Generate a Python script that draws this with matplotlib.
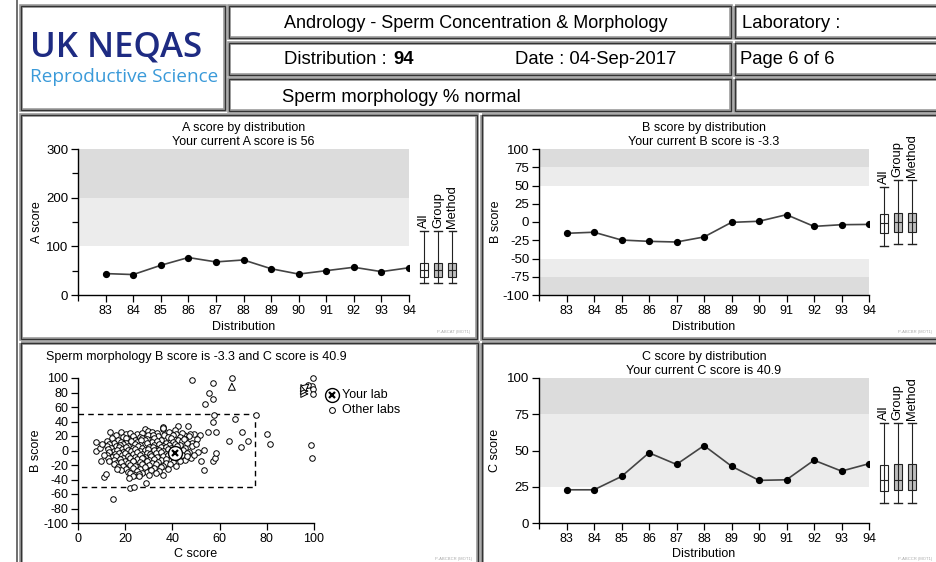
import matplotlib
matplotlib.use("Agg")
import matplotlib.pyplot as plt
from matplotlib.patches import Rectangle

plt.rcParams['font.family'] = ['Liberation Sans', 'DejaVu Sans']
plt.rcParams['axes.unicode_minus'] = False

W, H = 937, 562

# ---- data ----
dist = [83, 84, 85, 86, 87, 88, 89, 90, 91, 92, 93, 94]
a_score = [44, 42, 61, 77, 68, 72, 54, 43, 50, 57, 48, 56]
b_score = [-15.5, -14, -24.7, -26.5, -27.4, -20.5, -0.5, 1, 10, -6, -3.7, -3.3]
c_score = [22.9, 22.9, 32.1, 48.4, 40.4, 53.4, 39.2, 29.4, 29.8, 43.3, 35.8, 40.9]

box_names = ['All', 'Group', 'Method']
# whislo, q1, med, q3, whishi
a_boxes = [[24, 36, 51, 66, 132], [24, 36, 51, 66, 132], [24, 36, 51, 66, 132]]
b_boxes = [[-33, -15, -1.4, 11.4, 48.4], [-30, -13.7, 0.5, 12.8, 57.5], [-30, -13.7, 0.5, 12.8, 57.5]]
c_boxes = [[13.5, 22, 29.6, 40, 69], [13.5, 22.5, 30, 40.8, 69], [13.5, 22.5, 30, 40.8, 69]]

your_c, your_b = 40.9, -3.3

other_c = [
    48.5, 57.3, 55.4, 57.1, 53.9, 57.6, 57.0, 58.4, 55.2, 64.0, 66.6, 69.3, 72.0, 68.9, 75.5, 80.0, 81.3,
    98.6, 99.3, 65.2, 99.7, 99.2, 99.5, 99.7, 97.5, 15.0, 11.0, 11.9, 7.5, 7.5, 13.4, 29.0, 22.2, 23.8,
    51.8, 53.5, 53.5, 57.0, 58.0, 58.5, 50.5, 51.0, 52.0, 48.0, 46.7, 42.3, 36.0, 36.0, 36.0, 49.0, 45.0,
    28.5, 29.5, 36.2, 41.0,
    18.2, 20.3, 22.1, 25.2, 31.4, 33.5, 38.5, 41.5, 44.2, 47.3, 27.3,
    16.3, 19.1, 23.4, 26.2, 29.8, 34.1, 36.4, 38.2, 40.1, 43.3, 47.2, 31.8,
    14.2, 17.1, 21.2, 24.1, 27.3, 29.1, 32.4, 35.2, 39.3, 42.2, 45.3, 20.2,
    12.1, 15.3, 18.2, 20.3, 22.4, 25.1, 28.3, 31.2, 33.4, 37.1, 40.2, 44.2, 48.1, 26.5,
    13.2, 16.1, 19.2, 21.3, 24.2, 26.4, 29.1, 32.2, 34.3, 36.1, 38.4, 41.2, 43.3, 46.2, 17.8,
    12.3, 14.1, 17.2, 18.6, 20.4, 23.1, 25.3, 27.2, 30.1, 33.2, 35.1, 37.4, 39.2, 42.1, 45.4, 31.6,
    12.6, 15.1, 16.6, 19.2, 21.1, 22.6, 24.2, 26.1, 28.2, 31.1, 32.3, 34.2, 36.1, 38.2, 43.1, 44.3, 47.2, 29.6,
    13.1, 15.6, 17.2, 18.6, 20.1, 23.2, 25.1, 27.3, 29.2, 30.6, 33.1, 35.2, 37.1, 39.3, 42.4, 46.1, 49.2,
    12.2, 14.3, 16.1, 19.2, 21.3, 24.1, 26.2, 28.4, 31.1, 33.6, 36.2, 38.1, 40.3, 44.2, 27.4,
    12.6, 15.1, 17.6, 20.1, 22.2, 25.1, 27.2, 30.1, 32.3, 35.2, 37.1, 41.3, 45.2, 23.5,
    13.2, 16.1, 18.2, 21.1, 23.3, 26.2, 29.1, 31.2, 34.1, 37.3, 40.1, 43.2,
    15.1, 19.2, 22.1, 24.3, 27.1, 30.2, 33.1, 36.2, 39.1, 41.5,
    17.1, 20.2, 23.1, 26.3, 28.2, 32.1, 35.2, 38.1, 30.4,
    18.1, 21.2, 25.1, 29.2, 31.1, 34.2, 16.5,
    22.2, 24.1, 27.3, 30.1, 33.2, 26.0,
    23.2, 25.8, 21.4,
    9.5, 10.2, 11.0, 9.8, 48.5, 50.2, 46.0, 44.8,
]
other_b = [
    97.5, 93, 79, 71.5, 64.7, 49, 39, 26, 25, 12.5, 42.8, 26, 12.5, 5, 49, 22.7, 8.5,
    7.5, -10, 100, 100, 89, 85, 78, 91, -67, -37, -32, 12, -0.7, 25, -45.5, -51.5, -50.5,
    21, 0.5, -27, -15, -10, -4, 16, -2, -14, -10, 33.5, 33.5, 32.7, 29, -34, 23, 22,
    29.5, 27, 30.5, 28,
    25.6, 22.8, 24.4, 22.2, 25.1, 23.7, 25.9, 23.1, 24.7, 22.5, 24.2,
    21.6, 18.8, 20.4, 18.2, 21.1, 19.7, 21.9, 19.1, 20.7, 18.5, 20.2, 21.3,
    17.6, 14.8, 16.4, 14.2, 17.1, 15.7, 17.9, 15.1, 16.7, 14.5, 16.2, 17.3,
    13.6, 10.8, 12.4, 10.2, 13.1, 11.7, 13.9, 11.1, 12.7, 10.5, 12.2, 13.3, 10.9, 14.1,
    9.6, 6.8, 8.4, 6.2, 9.1, 7.7, 9.9, 7.1, 8.7, 6.5, 8.2, 9.3, 6.9, 10.1, 7.4,
    5.6, 2.8, 4.4, 2.2, 5.1, 3.7, 5.9, 3.1, 4.7, 2.5, 4.2, 5.3, 2.9, 6.1, 3.4, 4.9,
    1.6, -1.2, 0.4, -1.8, 1.1, -0.3, 1.9, -0.9, 0.7, -1.5, 0.2, 1.3, -1.1, 2.1, -0.6, 0.9, -1.9, 1.5,
    -2.4, -5.2, -3.6, -5.8, -2.9, -4.3, -2.1, -4.9, -3.3, -5.5, -3.8, -2.7, -5.1, -1.9, -4.6, -3.1, -5.9,
    -6.4, -9.2, -7.6, -9.8, -6.9, -8.3, -6.1, -8.9, -7.3, -9.5, -7.8, -6.7, -9.1, -5.9, -10.6,
    -10.4, -13.2, -11.6, -13.8, -10.9, -12.3, -10.1, -12.9, -11.3, -13.5, -11.8, -10.7, -13.1, -14.6,
    -14.4, -17.2, -15.6, -17.8, -14.9, -16.3, -14.1, -16.9, -15.3, -17.5, -15.8, -14.7,
    -18.4, -21.2, -19.6, -21.8, -18.9, -20.3, -18.1, -20.9, -19.3, -21.5,
    -22.4, -25.2, -23.6, -25.8, -22.9, -24.3, -22.1, -24.9, -26.3,
    -26.4, -29.2, -27.6, -29.8, -26.9, -28.3, -26.1,
    -30.4, -33.2, -31.6, -33.8, -30.9, -32.3,
    -35.2, -34.6, -37.6,
    3.0, 8.5, -6.0, -14.0, 6.0, 9.5, -7.5, 15.5,
]

fig = plt.figure(figsize=(W / 100, H / 100), dpi=100)

# background layer in pixel coordinates
bg = fig.add_axes([0, 0, 1, 1])
bg.set_xlim(0, W)
bg.set_ylim(H, 0)
bg.axis('off')


def frame(x0, y0, x1, y1):
    bg.add_patch(Rectangle((x0, y0), x1 - x0, y1 - y0, fill=False, ec='#999999', lw=2.6, clip_on=False))
    bg.add_patch(Rectangle((x0, y0), x1 - x0, y1 - y0, fill=False, ec='#333333', lw=0.9, clip_on=False))


bg.plot([17, 17], [0, H], color='#555555', lw=1.2)
frame(21, 6, 225, 110)
for y0, y1 in [(6, 38), (43, 75), (79, 111)]:
    frame(229, y0, 731, y1)
    frame(735, y0, 950, y1)
frame(21, 115, 477, 339)
frame(482, 115, 950, 339)
frame(21, 343, 478, 575)
frame(482, 343, 950, 575)

bg.text(30, 57, 'UK NEQAS', fontsize=25, color='#1e2b82', family=['Open Sans', 'DejaVu Sans'],
        fontweight='semibold', va='baseline')
bg.text(30, 82, 'Reproductive Science', fontsize=13.7, color='#3a9ad9',
        family=['Open Sans', 'DejaVu Sans'], va='baseline')

hfs = 13.3
bg.text(284, 24, 'Andrology - Sperm Concentration & Morphology', fontsize=12.95, va='center')
bg.text(284, 60, 'Distribution : ', fontsize=hfs, va='center')
bg.text(393, 60, '94', fontsize=hfs, va='center', fontweight='bold')
bg.text(515, 60, 'Date : 04-Sep-2017', fontsize=hfs, va='center')
bg.text(282, 97, 'Sperm morphology % normal', fontsize=hfs, va='center')
bg.text(742, 24, 'Laboratory :', fontsize=hfs, va='center')
bg.text(740, 60, 'Page 6 of 6', fontsize=hfs, va='center')

foot = dict(fontsize=3, color='#aaaaaa', ha='right', va='center')
bg.text(470, 332, 'P-ABCAT (MOT1)', **foot)
bg.text(932, 332, 'P-ABCBR (MOT1)', **foot)
bg.text(472, 559, 'P-ABCBCR (MOT1)', **foot)
bg.text(932, 559, 'P-ABCCR (MOT1)', **foot)


def add_ax(x0, y0, x1, y1):
    return fig.add_axes([x0 / W, 1 - y1 / H, (x1 - x0) / W, (y1 - y0) / H])


def style(ax):
    for s in ['top', 'right']:
        ax.spines[s].set_visible(False)
    for s in ['left', 'bottom']:
        ax.spines[s].set_linewidth(1.0)
    ax.tick_params(which='both', direction='out', width=0.9, colors='black')
    ax.tick_params(which='major', length=5)
    ax.tick_params(which='minor', length=4)
    ax.tick_params(axis='y', labelsize=9.5, pad=2)
    ax.tick_params(axis='x', labelsize=9, pad=2)
    ax.patch.set_alpha(0)


def trend(ax, y, ylim, yticks, bands, boxes, ylabel, title, ylab_x):
    style(ax)
    for lo, hi, col in bands:
        ax.axhspan(lo, hi, color=col, lw=0, zorder=0)
    ax.plot(dist, y, color='#444444', lw=1.2, marker='o', ms=4.2, mfc='black', mec='black', zorder=3)
    ax.set_xlim(82, 94)
    ax.set_ylim(*ylim)
    ax.set_xticks(dist)
    ax.set_xticks([82], minor=True)
    ax.set_yticks(yticks)
    ax.set_ylabel(ylabel, fontsize=9)
    ax.yaxis.set_label_coords(ylab_x, 0.5)
    ax.set_xlabel('Distribution', fontsize=9)
    ax.xaxis.set_label_coords(0.5, -0.175)
    ax.set_title(title, fontsize=9, pad=3, linespacing=1.25)
    positions = [94.55, 95.05, 95.57]
    stats = [dict(whislo=b[0], q1=b[1], med=b[2], q3=b[3], whishi=b[4]) for b in boxes]
    for st, pos, name in zip(stats, positions, box_names):
        fc = 'white' if name == 'All' else '#bdbdbd'
        art = ax.bxp([st], positions=[pos], widths=0.3, patch_artist=True, showfliers=False,
                     boxprops=dict(facecolor=fc, edgecolor='#222222', lw=0.8),
                     medianprops=dict(color='#222222', lw=0.8),
                     whiskerprops=dict(color='#222222', lw=0.8),
                     capprops=dict(color='#222222', lw=1.0), capwidths=0.27, manage_ticks=False)
        for group in art.values():
            for a in group:
                a.set_clip_on(False)
        ax.vlines(pos, st['q1'], st['q3'], color='#222222', lw=0.8, clip_on=False, zorder=4)
        ax.annotate(name, (pos, st['whishi']), xytext=(0, 2), textcoords='offset points',
                    rotation=90, ha='center', va='bottom', fontsize=9.3, annotation_clip=False)


light, dark = '#ececec', '#dcdcdc'

ax_a = add_ax(78, 149, 409, 295)
trend(ax_a, a_score, (0, 300), [0, 100, 200, 300],
      [(100, 200, light), (200, 300, dark)], a_boxes, 'A score',
      'A score by distribution\nYour current A score is 56', -0.106)
ax_a.set_yticks([50, 150, 250], minor=True)

ax_b = add_ax(539, 149, 869, 295)
trend(ax_b, b_score, (-100, 100), list(range(-100, 101, 25)),
      [(50, 75, light), (75, 100, dark), (-75, -50, light), (-100, -75, dark)], b_boxes, 'B score',
      'B score by distribution\nYour current B score is -3.3', -0.112)

ax_c = add_ax(539, 378, 869, 523)
trend(ax_c, c_score, (0, 100), [0, 25, 50, 75, 100],
      [(25, 75, light), (75, 100, dark)], c_boxes, 'C score',
      'C score by distribution\nYour current C score is 40.9', -0.115)

# scatter panel
ax_s = add_ax(78, 378, 314, 523)
style(ax_s)
ax_s.set_xlim(0, 100)
ax_s.set_ylim(-100, 100)
ax_s.set_xticks(range(0, 101, 20))
ax_s.set_yticks(range(-100, 101, 20))
ax_s.tick_params(axis='y', labelsize=9)
ax_s.set_xlabel('C score', fontsize=9)
ax_s.xaxis.set_label_coords(0.5, -0.175)
ax_s.set_ylabel('B score', fontsize=9)
ax_s.yaxis.set_label_coords(-0.153, 0.5)
ax_s.set_title('Sperm morphology B score is -3.3 and C score is 40.9', fontsize=9, pad=13)
ax_s.plot([0, 75, 75, 0], [50, 50, -50, -50], color='black', lw=1.0, ls=(0, (4, 3)))
ax_s.scatter(other_c, other_b, s=16, facecolors='white', edgecolors='black', linewidths=0.7,
             clip_on=False, zorder=3)
ax_s.plot(your_c, your_b, 'o', ms=10, mfc='white', mec='black', mew=1.0, zorder=4)
ax_s.plot(your_c, your_b, 'x', ms=5, mec='black', mew=1.6, zorder=5)

arrow = dict(arrowstyle='-|>,head_length=0.5,head_width=0.25', fc='white', ec='black', lw=0.7)
ax_s.annotate('', xy=(65.2, 98), xytext=(65.2, 82), arrowprops=arrow, annotation_clip=False)
for yy in [78, 82, 86]:
    ax_s.annotate('', xy=(99, yy), xytext=(93, yy), arrowprops=arrow, annotation_clip=False)
ax_s.annotate('', xy=(99, 95), xytext=(95, 84), arrowprops=arrow, annotation_clip=False)

# legend
ax_s.plot(107.5, 76.6, 'o', ms=10, mfc='white', mec='black', mew=1.0, clip_on=False)
ax_s.plot(107.5, 76.6, 'x', ms=5, mec='black', mew=1.6, clip_on=False)
ax_s.plot(107.5, 56, 'o', ms=4.2, mfc='white', mec='black', mew=0.7, clip_on=False)
ax_s.text(112, 76.6, 'Your lab', fontsize=9, va='center')
ax_s.text(112, 56, 'Other labs', fontsize=9, va='center')

fig.savefig('out.png', dpi=100)
